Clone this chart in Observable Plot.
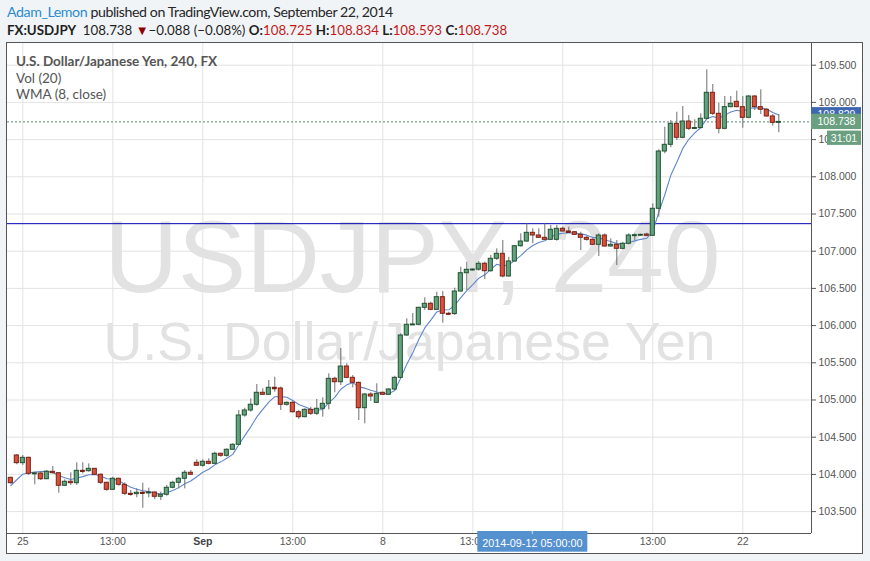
<!DOCTYPE html>
<html><head><meta charset="utf-8">
<script src="https://cdn.jsdelivr.net/npm/d3@7"></script>
<script src="https://cdn.jsdelivr.net/npm/@observablehq/plot@0.6"></script>
<style>
html,body{margin:0;padding:0;}
body{width:870px;height:561px;background:#f1f4f7;position:relative;overflow:hidden;font-family:"Lato","Open Sans",sans-serif;}
#h1{position:absolute;left:7px;top:3px;font-size:14.2px;letter-spacing:-0.43px;line-height:18px;color:#262626;white-space:nowrap;}
#h1 .u{color:#2a8bd1;}
#h2{position:absolute;left:7px;top:21px;font-size:13.3px;letter-spacing:0px;line-height:18px;color:#1e1e1e;white-space:nowrap;}
#h2 b{font-weight:700;}
#h2 .r{color:#c41a1a;}
#h2 .t{color:#8b0000;font-size:13px;}
#frame{position:absolute;left:6px;top:42px;width:855px;height:510px;border:1px solid #555;background:#fff;}
#chart{position:absolute;left:0;top:0;}
#legend{position:absolute;left:9px;top:10px;font-size:13.5px;line-height:16.7px;color:#555;white-space:nowrap;}
#legend .b{font-weight:700;}
</style></head><body>
<div id="h1"></div>
<div id="h2"></div>
<div id="frame"><div id="chart"></div><div id="legend"></div></div>
<script>
// ---- data (4h candles, FX:USDJPY) ----
const open  = [103.954,104.254,104.151,104.223,104.008,104.012,103.935,104.035,104.016,103.847,103.901,103.882,104.048,104.043,104.075,103.995,103.887,103.793,103.941,103.860,103.739,103.734,103.753,103.747,103.757,103.699,103.726,103.820,103.887,103.941,104.022,104.156,104.116,104.169,104.142,104.277,104.250,104.331,104.398,104.792,104.859,104.936,105.097,105.070,105.164,105.155,104.936,104.962,104.836,104.769,104.868,104.815,104.882,104.949,105.285,105.239,105.450,105.298,105.231,104.890,105.074,104.962,105.097,105.070,105.141,105.298,105.867,106.008,106.011,106.239,106.293,106.212,106.382,106.159,106.155,106.458,106.704,106.748,106.752,106.831,106.731,106.898,106.965,106.660,106.862,107.067,107.130,107.247,107.211,107.180,107.153,107.153,107.301,107.265,107.255,107.220,107.180,107.153,107.086,107.211,107.063,107.086,107.032,107.100,107.207,107.213,107.224,107.207,107.570,108.340,108.430,108.712,108.524,108.743,108.645,108.655,108.780,109.129,108.847,108.645,108.936,109.008,108.936,108.793,109.079,108.936,108.901,108.811,108.725];
const high  = [103.962,104.267,104.254,104.231,104.030,104.030,104.052,104.106,104.022,103.927,104.022,104.156,104.156,104.142,104.080,104.008,103.895,103.962,103.949,103.887,103.784,103.806,103.882,103.815,103.761,103.761,103.851,103.909,103.962,104.052,104.052,104.196,104.196,104.210,104.298,104.285,104.344,104.411,104.859,104.890,105.016,105.208,105.151,105.262,105.306,105.172,104.975,104.984,104.859,104.882,104.903,105.007,105.030,105.352,105.306,105.692,105.487,105.329,105.239,105.083,105.097,105.218,105.105,105.151,105.320,105.890,106.091,106.163,106.247,106.374,106.315,106.449,106.458,106.180,106.503,106.785,106.852,106.764,106.862,106.852,106.942,107.032,107.144,106.919,107.077,107.234,107.368,107.301,107.301,107.368,107.346,107.346,107.323,107.323,107.260,107.255,107.198,107.166,107.234,107.234,107.166,107.144,107.121,107.234,107.234,107.230,107.242,107.637,108.363,108.667,108.757,108.868,108.945,108.824,108.766,108.847,109.438,109.241,108.989,109.079,109.079,109.151,109.079,109.093,109.093,109.169,108.914,108.837,108.834];
const low   = [103.868,104.129,104.120,103.985,103.860,103.918,103.931,104.008,103.747,103.837,103.851,103.851,104.008,104.030,103.985,103.864,103.774,103.784,103.841,103.716,103.707,103.686,103.546,103.686,103.659,103.649,103.707,103.806,103.806,103.806,103.985,104.106,104.097,104.129,104.133,104.231,104.231,104.321,104.388,104.769,104.836,104.917,105.060,105.060,105.105,104.859,104.917,104.823,104.738,104.761,104.792,104.792,104.769,104.868,105.097,105.195,105.285,105.164,104.724,104.680,104.980,104.962,105.060,105.060,105.128,105.285,105.854,106.001,106.001,106.203,106.203,106.203,106.032,106.136,106.136,106.449,106.472,106.731,106.731,106.620,106.718,106.875,106.642,106.651,106.852,107.054,107.121,107.100,107.175,107.144,107.144,107.135,107.255,107.242,107.211,107.009,107.135,107.077,106.929,107.054,107.054,106.808,107.019,107.086,107.144,107.200,107.194,107.198,107.457,108.309,108.390,108.488,108.511,108.622,108.636,108.645,108.766,108.824,108.578,108.632,108.927,108.927,108.653,108.780,108.891,108.837,108.801,108.680,108.593];
const close = [103.882,104.151,104.223,104.008,104.012,103.935,104.035,104.016,103.847,103.901,103.882,104.048,104.043,104.075,103.995,103.887,103.793,103.941,103.860,103.739,103.734,103.753,103.747,103.757,103.699,103.726,103.820,103.887,103.941,104.022,103.995,104.116,104.169,104.142,104.277,104.250,104.331,104.398,104.792,104.859,104.936,105.097,105.070,105.164,105.155,104.936,104.962,104.836,104.769,104.868,104.815,104.882,104.949,105.285,105.239,105.450,105.298,105.231,104.890,105.074,105.047,105.083,105.070,105.141,105.298,105.867,106.011,106.014,106.239,106.293,106.212,106.382,106.159,106.155,106.458,106.704,106.750,106.752,106.831,106.731,106.898,106.965,106.660,106.862,107.067,107.130,107.247,107.211,107.180,107.153,107.288,107.301,107.265,107.255,107.220,107.180,107.153,107.086,107.211,107.063,107.086,107.032,107.100,107.211,107.213,107.220,107.207,107.570,108.340,108.430,108.712,108.524,108.743,108.645,108.655,108.780,109.129,108.847,108.645,108.936,108.981,108.936,108.793,109.079,108.936,108.901,108.811,108.725,108.738];
// WMA(8) values for the first bars (earlier closes not shown)
const wmaLead = [103.851,103.928,104.003,104.022,104.030,104.039,104.043];
const hLine = [107.37];              // drawn horizontal line
const lastPrice = [108.738];
const yTicks = [103.5,104,104.5,105,105.5,106,106.5,107,107.5,108,108.5,109,109.5];
const xTickIdx = [2,17,32,47,62,77,92,107,122];
const xTickLab = ["25","13:00","Sep","13:00","8","13:00","","13:00","22"];   // label at 92 is hidden by the cursor label
const cursor = [{i: 87, label: "2014-09-12 05:00:00"}];
const countdown = "31:01";
const hdrUser = "Adam_Lemon", hdrRest = " published on TradingView.com, September 22, 2014";
const hdrSym = "FX:USDJPY", hdrLast = "108.738", hdrChg = "\u22120.088 (\u22120.08%)";
const hdrOHLC = [["O:","108.725"],["H:","108.834"],["L:","108.593"],["C:","108.738"]];
const legendLines = ["U.S. Dollar/Japanese Yen, 240, FX","Vol (20)","WMA (8, close)"];
const watermark = ["USDJPY, 240","U.S. Dollar/Japanese Yen"];

// ---- header ----
document.getElementById("h1").innerHTML = `<span class="u">${hdrUser}</span>${hdrRest}`;
document.getElementById("h2").innerHTML = `<b>${hdrSym}</b>&nbsp; ${hdrLast} <span class="t">&#9660;</span>${hdrChg} ` +
  hdrOHLC.map(([k,v]) => `<b>${k}</b><span class="r">${v}</span>`).join(" ");
document.getElementById("legend").innerHTML = legendLines.map((t,k)=>`<div class="${k===0?'b':''}">${t}</div>`).join("");

// ---- chart ----
const bars = open.map((o,i) => ({i, o, h: high[i], l: low[i], c: close[i], up: close[i] >= o}));
const wma = bars.map(d => ({i: d.i, v: d.i < 7 ? wmaLead[d.i] : d3.sum(d3.range(8), k => (8-k)*close[d.i-k]) / 36}));
const ticks = xTickIdx.map((i,k) => ({i, lab: xTickLab[k]})).filter(d => d.lab);
const W = 855, H = 510;
const xDom = [-0.55, 133.45], yDom = [103.2056, 109.7917];
const G = "#64a27e", GD = "#1f5232", R = "#d9513d", RD = "#7a2014";
const font = "Liberation Sans, Arial, sans-serif";

const chart = Plot.plot({
  width: W, height: H,
  marginLeft: 0, marginRight: 51, marginTop: 0, marginBottom: 20,
  style: {fontFamily: font, background: "transparent", overflow: "visible"},
  x: {type: "linear", domain: xDom, axis: null},
  y: {domain: yDom, axis: null},
  marks: [
    Plot.text([watermark[0]], {frameAnchor: "middle", text: d => d, fontSize: 102, fill: "#e2e2e2", lineAnchor: "bottom", dy: 3, dx: 3}),
    Plot.text([watermark[1]], {frameAnchor: "middle", text: d => d, fontSize: 53.7, fill: "#e2e2e2", lineAnchor: "bottom", dy: 71.5, dx: 0}),
    Plot.ruleY(yTicks, {stroke: "#e3e3e3"}),
    Plot.ruleX(xTickIdx, {stroke: "#e3e3e3"}),
    Plot.ruleY(hLine, {stroke: "#0000b4", strokeWidth: 1}),
    Plot.ruleY(lastPrice, {stroke: "#5e8d70", strokeDasharray: "2,2"}),
    Plot.line(wma, {x: "i", y: "v", stroke: "#5f86cc", strokeWidth: 1.1}),
    Plot.ruleX(bars, {x: "i", y1: "l", y2: "h", stroke: "#6e6e6e", strokeWidth: 1}),
    Plot.rect(bars, {x1: d => d.i - 0.34, x2: d => d.i + 0.34, y1: "o", y2: "c", fill: d => d.up ? G : R, stroke: d => d.up ? GD : RD, strokeWidth: 1}),
    Plot.ruleY(bars.filter(d => Math.abs(d.c - d.o) < 0.012), {y: "c", x1: d => d.i - 0.38, x2: d => d.i + 0.38, stroke: d => d.up ? GD : RD, strokeWidth: 1.6}),
    Plot.ruleX([xDom[1]], {stroke: "#555"}),
    Plot.ruleY([yDom[0]], {stroke: "#555"}),
    Plot.axisY(yTicks, {anchor: "right", tickSize: 4, tickPadding: 3, tickFormat: d3.format(".3f"), fontSize: 10.5, color: "#555", label: null}),
    Plot.text(ticks.filter(d => d.lab !== "Sep"), {x: "i", text: "lab", frameAnchor: "bottom", lineAnchor: "bottom", dy: 11.3, fontSize: 10.5, fill: "#555"}),
    Plot.text(ticks.filter(d => d.lab === "Sep"), {x: "i", text: "lab", frameAnchor: "bottom", lineAnchor: "bottom", dy: 11.3, fontSize: 10.5, fill: "#444", fontWeight: "bold"})
  ]
});
document.getElementById("chart").appendChild(chart);

// ---- price / time labels positioned with the plot's own scales ----
const sx = chart.scale("x"), sy = chart.scale("y");
const svg = d3.select(chart);
const xr = sx.apply(xDom[1]);
function priceBox(v, fill, text, x0, w, h) {
  const cy = sy.apply(v);
  const g = svg.append("g");
  g.append("rect").attr("x", x0).attr("y", cy - h/2).attr("width", w).attr("height", h).attr("fill", fill);
  g.append("text").attr("x", x0 + 6.5).attr("y", cy + 3.8).attr("text-anchor", "start").attr("fill", "#fff").attr("font-size", 10.5).attr("font-family", font).text(text);
  return cy;
}
const wLast = wma[wma.length-1].v;
priceBox(wLast, "#3d67b0", d3.format(".3f")(wLast), xr, 50, 15);
const cy = priceBox(lastPrice[0], "#6a9f7f", d3.format(".3f")(lastPrice[0]), xr, 50, 15.3);
svg.append("rect").attr("x", xr + 16).attr("y", cy + 9.2).attr("width", 34).attr("height", 14.3).attr("fill", "#6a9f7f");
svg.append("text").attr("x", xr + 33).attr("y", cy + 20.2).attr("text-anchor", "middle").attr("fill", "#fff").attr("font-size", 10.5).attr("font-family", font).text(countdown);
// cursor time label
cursor.forEach(c => {
  const cx = sx.apply(c.i), yb = sy.apply(yDom[0]);
  svg.append("rect").attr("x", cx - 55).attr("y", yb - 2).attr("width", 110).attr("height", 20.7).attr("fill", "#5591cf");
  svg.append("line").attr("x1", cx).attr("x2", cx).attr("y1", yb - 2).attr("y2", yb + 1).attr("stroke", "#cfe0f2");
  svg.append("text").attr("x", cx).attr("y", yb + 14).attr("text-anchor", "middle").attr("fill", "#fff").attr("font-size", 10.8).attr("font-family", font).text(c.label);
});
</script>
</body></html>
